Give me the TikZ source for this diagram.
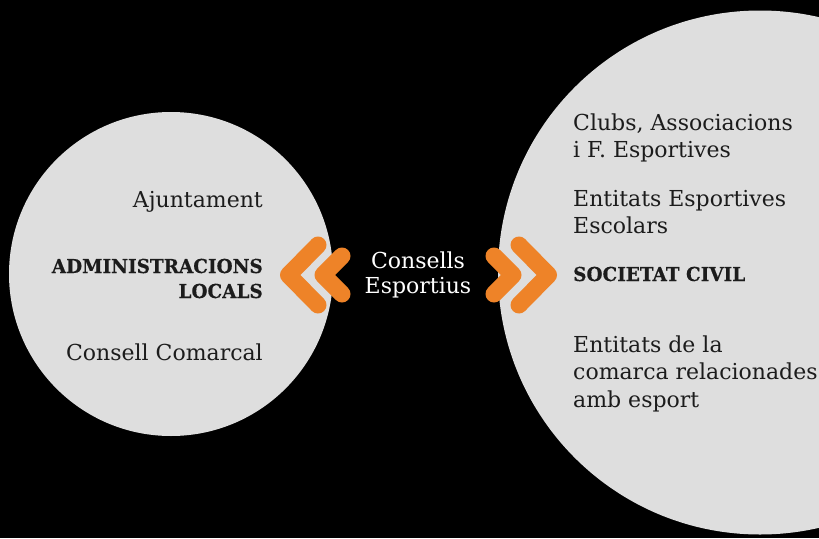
\documentclass[tikz,border=0pt]{standalone}
\usepackage{fontspec}
\setmainfont{DejaVu Serif}
\newfontface\heavyfont{DejaVu Serif Bold}[FakeStretch=0.96, FakeBold=0.4]
\definecolor{circlegray}{HTML}{DEDEDE}
\definecolor{chevorange}{HTML}{EE8328}
\definecolor{textdark}{HTML}{1C1C1C}
\newcommand{\rlines}[1]{\begin{tabular}[t]{@{}r@{}}#1\end{tabular}}
\newcommand{\llines}[1]{\begin{tabular}[t]{@{}l@{}}#1\end{tabular}}
\newcommand{\clines}[1]{\begin{tabular}[t]{@{}c@{}}#1\end{tabular}}
\begin{document}
\begin{tikzpicture}[x=1pt,y=-1pt,
  bubble/.style={fill=circlegray, draw=none},
  chevron/.style={draw=chevorange, line width=17pt, line cap=round, line join=round},
  lefttext/.style={anchor=base east, inner sep=0pt, text=textdark, font=\fontsize{22}{27.5}\selectfont},
  leftbold/.style={anchor=base east, inner sep=0pt, text=textdark, font=\fontsize{19.2}{25}\heavyfont},
  righttext/.style={anchor=base west, inner sep=0pt, text=textdark, font=\fontsize{22}{27.5}\selectfont},
  rightbold/.style={anchor=base west, inner sep=0pt, text=textdark, font=\fontsize{19.2}{25}\heavyfont},
  midtext/.style={anchor=base, inner sep=0pt, text=white, font=\fontsize{22}{25.5}\selectfont}
]
\fill[black] (0,0) rectangle (819,538);
\useasboundingbox (0,0) rectangle (819,538);
\begin{scope}
  \clip (0,0) rectangle (819,538);
  \fill[bubble] (171,274) circle [radius=162];
  \fill[bubble] (760,272.5) circle [radius=262];
\end{scope}
% chevrons
\draw[chevron] (318,245) -- (288.5,275) -- (318,305);
\draw[chevron] (342,256) -- (323,275) -- (342,294);
\draw[chevron] (494,256) -- (513,275) -- (494,294);
\draw[chevron] (519,245) -- (548.5,275) -- (519,305);
% left circle texts
\node[lefttext] (ajuntament) at (263,207) {Ajuntament};
\node[leftbold] (admin) at (263,273) {\rlines{ADMINISTRACIONS\\LOCALS}};
\node[lefttext] (consell) at (263,360) {Consell Comarcal};
% middle
\node[midtext] (consells) at (418,268) {\clines{Consells\\Esportius}};
% right circle texts
\node[righttext] (clubs) at (573,130) {\llines{Clubs, Associacions\\i F. Esportives}};
\node[righttext] (escolars) at (573,206) {\llines{Entitats Esportives\\Escolars}};
\node[rightbold] (societat) at (573,281) {SOCIETAT CIVIL};
\node[righttext] (comarca) at (573,352) {\llines{Entitats de la\\comarca relacionades\\amb esport}};
\end{tikzpicture}
\end{document}
